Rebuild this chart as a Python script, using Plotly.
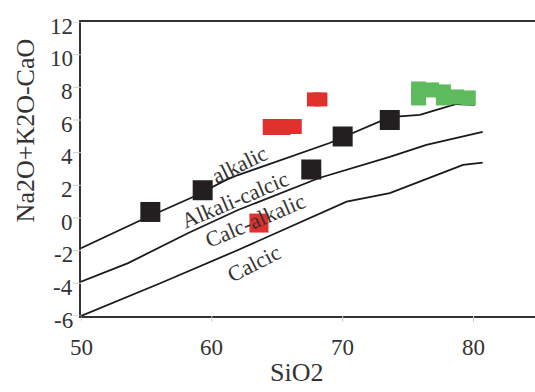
import plotly.graph_objects as go

# Boundary curves between the alkali-lime fields (SiO2 vs Na2O+K2O-CaO)
line_a_x = [50, 54.6, 58.6, 61.1, 62.0, 69.0, 73.6, 75.9, 78.7, 80.1]
line_a_y = [-1.85, -0.12, 1.30, 2.33, 2.63, 4.59, 6.18, 6.31, 6.98, 6.92]

line_b_x = [50, 53.6, 58.2, 62.0, 68.2, 73.6, 76.4, 80.7]
line_b_y = [-3.9, -2.76, -0.92, 0.49, 2.45, 3.74, 4.47, 5.28]

line_c_x = [50, 56.1, 62.0, 70.3, 73.6, 79.2, 80.7]
line_c_y = [-6.0, -3.98, -1.96, 1.0, 1.53, 3.25, 3.39]

# Samples
black_x = [55.3, 59.3, 67.6, 70.0, 73.6]
black_y = [0.37, 1.7, 2.97, 4.99, 6.0]

red_x = [67.8, 68.3, 64.5, 65.4, 66.3, 63.6]
red_y = [7.26, 7.26, 5.57, 5.57, 5.60, -0.31]

green_x = [75.8, 75.8, 76.8, 77.7, 77.7, 78.7, 79.6]
green_y = [7.90, 7.35, 7.84, 7.72, 7.35, 7.41, 7.35]

field_names = ["alkalic", "Alkali-calcic", "Calc-alkalic", "Calcic"]
field_x = [62.1, 61.8, 63.3, 63.2]
field_y = [3.3, 1.15, -0.15, -2.8]

x_ticks = [50, 60, 70, 80]
y_ticks = [-6, -4, -2, 0, 2, 4, 6, 8, 10, 12]
x_title = "SiO2"
y_title = "Na2O+K2O-CaO"

SERIF = "Liberation Serif"
INK = "#333333"
TICK_GRAY = "#cccccc"

fig = go.Figure()

for lx, ly in [(line_a_x, line_a_y), (line_b_x, line_b_y), (line_c_x, line_c_y)]:
    fig.add_trace(go.Scatter(x=lx, y=ly, mode="lines",
                             line=dict(color="#1a1a1a", width=1.8),
                             hoverinfo="skip", showlegend=False))

fig.add_trace(go.Scatter(x=green_x, y=green_y, mode="markers",
                         marker=dict(symbol="square", size=15, color="#5DBB5D",
                                     opacity=1, line=dict(width=0)),
                         showlegend=False))
fig.add_trace(go.Scatter(x=red_x, y=red_y, mode="markers",
                         marker=dict(symbol="square", size=[14, 14, 16, 16, 15, 19],
                                     color="#E0312F", opacity=1, line=dict(width=0)),
                         showlegend=False))
fig.add_trace(go.Scatter(x=black_x, y=black_y, mode="markers",
                         marker=dict(symbol="square", size=20, color="#231F20",
                                     opacity=1, line=dict(width=0)),
                         showlegend=False))

# Field names along the boundary curves
angles = [-26, -23, -23, -27]
for name, ax, ay, ang in zip(field_names, field_x, field_y, angles):
    fig.add_annotation(x=ax, y=ay, text=name, showarrow=False, textangle=ang,
                       font=dict(family=SERIF, size=22, color=INK))

# Short light-gray tick marks outside the axes, with serif tick labels
for v in y_ticks:
    fig.add_shape(type="line", xref="paper", yref="y", xsizemode="pixel", xanchor=0,
                  x0=-8, x1=0, y0=v, y1=v, line=dict(color=TICK_GRAY, width=1))
    fig.add_annotation(xref="paper", yref="y", x=0, y=v, text=str(v),
                       showarrow=False, xanchor="right", yanchor="middle",
                       xshift=-6, yshift=-4,
                       font=dict(family=SERIF, size=23, color=INK))
for v in x_ticks:
    fig.add_shape(type="line", xref="x", yref="paper", ysizemode="pixel", yanchor=0,
                  x0=v, x1=v, y0=-6, y1=0, line=dict(color=TICK_GRAY, width=1))
    fig.add_annotation(xref="x", yref="paper", x=v, y=0, text=str(v),
                       showarrow=False, xanchor="center", yanchor="middle",
                       yshift=-31,
                       font=dict(family=SERIF, size=23, color=INK))

# Axis titles
fig.add_annotation(xref="paper", yref="paper", x=-0.1278, y=0.633, xshift=-14,
                   text=y_title, textangle=-90, showarrow=False,
                   font=dict(family=SERIF, size=26, color=INK))
fig.add_annotation(xref="paper", yref="paper", x=0.4736, y=-0.204, yshift=-13,
                   text=x_title, showarrow=False,
                   font=dict(family=SERIF, size=26, color=INK))

fig.update_layout(
    width=535, height=392,
    margin=dict(l=81, r=0, t=22, b=76),
    paper_bgcolor="white", plot_bgcolor="white",
    font=dict(family=SERIF, color=INK),
    xaxis=dict(range=[50, 84.7], tickvals=x_ticks, showgrid=False, zeroline=False,
               showline=True, linecolor=INK, linewidth=2, mirror=True,
               ticks="", showticklabels=False),
    yaxis=dict(range=[-6, 12], tickvals=y_ticks, showgrid=False, zeroline=False,
               showline=True, linecolor=INK, linewidth=2,
               ticks="", showticklabels=False),
)

fig.write_html("out.html")
